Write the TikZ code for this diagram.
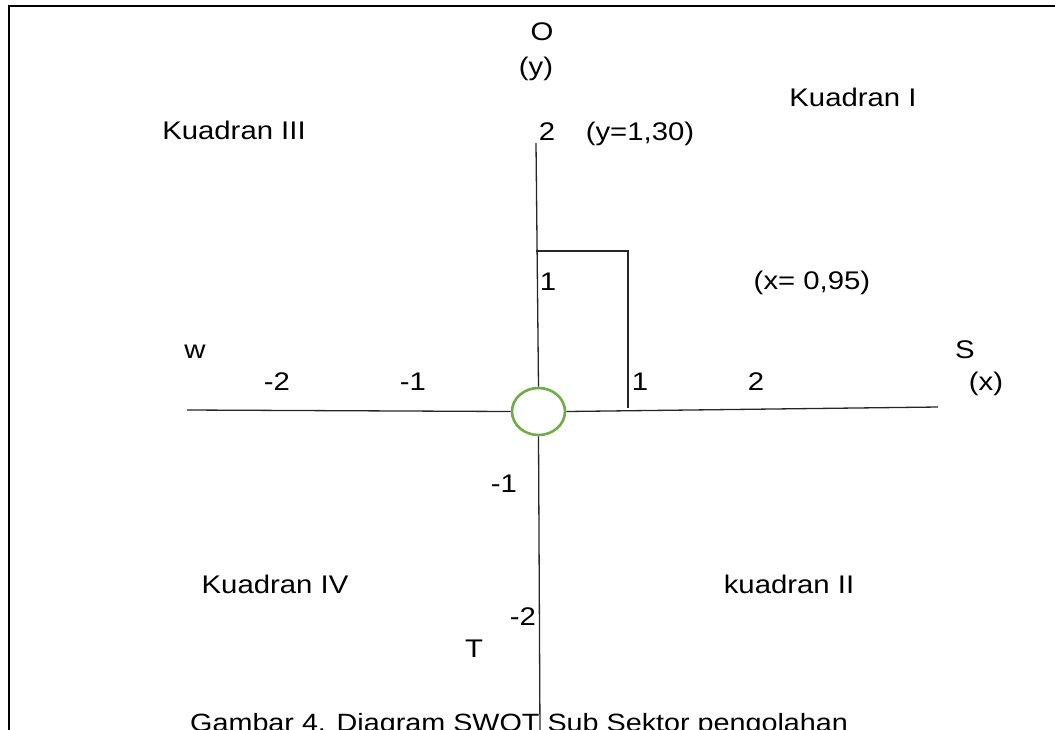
\documentclass[tikz,border=0pt]{standalone}
\usepackage{fontspec}
\setmainfont{Liberation Sans}[FakeStretch=1.15]
\usetikzlibrary{shapes.geometric}
\definecolor{okgreen}{HTML}{70AD47}
\tikzset{
  lbl/.style={inner sep=0pt, anchor=base, font=\fontsize{25.5}{30}\selectfont},
  axis/.style={line width=1.3pt, draw=black!85},
  frame/.style={line width=1.8pt, draw=black},
  origin/.style={ellipse, draw=okgreen, line width=2.6pt, minimum width=53pt, minimum height=47pt, inner sep=0pt}
}
\begin{document}
\begin{tikzpicture}[x=1pt,y=-1pt]
\useasboundingbox (0,0) rectangle (1055,729);
\clip (0,0) rectangle (1055,729);
% frame
\coordinate (fbl) at (9,740);
\coordinate (ftl) at (9,6);
\coordinate (ftr) at (1060,6);
\draw[frame] (fbl) -- (ftl) -- (ftr);
% caption (cut off by the page edge, as in the reference)
\node[lbl, anchor=base west, font=\fontsize{25}{30}\selectfont] (cap) at (190,731) {Gambar 4. Diagram SWOT Sub Sektor pengolahan};
% origin
\node[origin] (c) at (538.5,411.5) {};
% axes
\coordinate (xl) at (187,410);
\coordinate (xr) at (938,407);
\coordinate (yt) at (536,143);
\coordinate (yb) at (540,735);
\draw[axis] (xl) -- (c.west);
\draw[axis] (c.east) -- (xr);
\draw[axis] (yt) -- (c.north);
\draw[axis] (c.south) -- (yb);
% point rectangle
\coordinate (p1) at (536,251);
\coordinate (p2) at (628,251);
\coordinate (p3) at (628,408);
\draw[axis] (p1) -- (p2) -- (p3);
% labels
\node[lbl] (tO) at (542,40) {O};
\node[lbl] (ty) at (536,75) {(y)};
\node[lbl] (k1) at (853,106) {Kuadran I};
\node[lbl] (k3) at (234,139) {Kuadran III};
\node[lbl] (y2) at (547,140) {2};
\node[lbl] (yv) at (640,140) {(y=1,30)};
\node[lbl] (y1) at (548,290) {1};
\node[lbl] (xv) at (812,289) {(x= 0,95)};
\node[lbl] (tw) at (195,358) {w};
\node[lbl] (xm2) at (277,390) {-2};
\node[lbl] (xm1) at (413,390) {-1};
\node[lbl] (x1) at (640,390) {1};
\node[lbl] (x2) at (756,390) {2};
\node[lbl] (tS) at (965,358) {S};
\node[lbl] (tx) at (986,390) {(x)};
\node[lbl] (ym1) at (504,492) {-1};
\node[lbl] (k4) at (275,593) {Kuadran IV};
\node[lbl] (k2) at (789,593) {kuadran II};
\node[lbl] (ym2) at (523,625) {-2};
\node[lbl] (tT) at (474,657) {T};
\end{tikzpicture}
\end{document}
